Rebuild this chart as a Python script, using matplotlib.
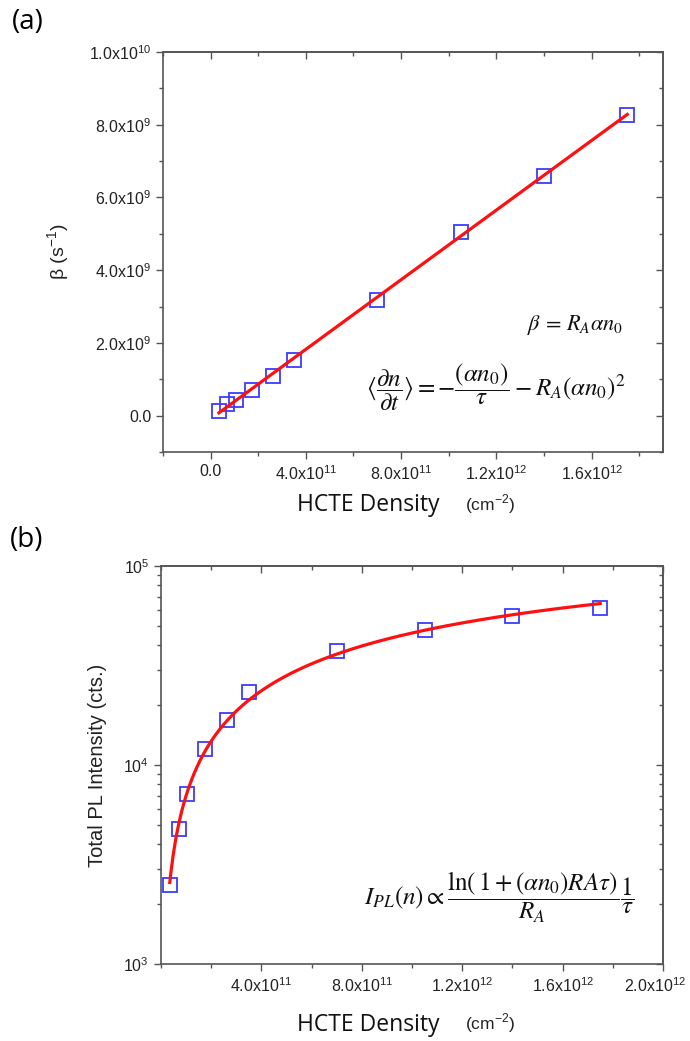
import numpy as np
import matplotlib
matplotlib.use("Agg")
import matplotlib.pyplot as plt
import matplotlib.transforms as mtransforms
from matplotlib.ticker import MultipleLocator, FuncFormatter, LogLocator, NullFormatter

plt.rcParams['font.family'] = ['Liberation Sans', 'DejaVu Sans']

# ---------------- data ----------------
density = [3.5e10, 7.0e10, 1.05e11, 1.75e11, 2.63e11, 3.5e11, 7.0e11, 1.05e12, 1.4e12, 1.75e12]
beta = [0.13e9, 0.31e9, 0.44e9, 0.70e9, 1.10e9, 1.54e9, 3.17e9, 5.06e9, 6.60e9, 8.27e9]
pl_intensity = [2500, 4780, 7180, 12000, 16750, 23250, 37600, 47500, 55900, 61800]

a_xticks = [0.0, 4e11, 8e11, 1.2e12, 1.6e12]
a_yticks = [0.0, 2e9, 4e9, 6e9, 8e9, 1e10]
b_xticks = [4e11, 8e11, 1.2e12, 1.6e12, 2.0e12]
b_yticks = [1e3, 1e4, 1e5]

SQ = '#3b3bff'
RED = '#ff1010'
SPINE = '#555555'
TXT = '#222222'


def sci(v, pos=None):
    if v == 0:
        return "0.0"
    m, e = f"{v:.1e}".split("e")
    return f"{m}x10$^{{\\mathregular{{{int(e)}}}}}$"


def pow10(v, pos=None):
    e = int(round(np.log10(v)))
    return f"10$^{{\\mathregular{{{e}}}}}$"


def style(ax, xmin_step, ylog=False):
    for s in ax.spines.values():
        s.set_color(SPINE)
        s.set_linewidth(1.2)
    ax.tick_params(which='both', direction='out', colors=SPINE, labelcolor=TXT,
                   labelsize=11.5, top=False, right=False)
    ax.tick_params(which='major', length=5, width=1)
    ax.tick_params(which='minor', length=3, width=1)
    sx = ax.secondary_xaxis('top')
    sx.set_xticks(ax.get_xticks())
    sx.xaxis.set_minor_locator(MultipleLocator(xmin_step))
    sx.tick_params(which='both', direction='in', labeltop=False, colors=SPINE)
    sx.tick_params(which='major', length=5, width=1)
    sx.tick_params(which='minor', length=3, width=1)
    sx.spines['top'].set_color(SPINE)
    sx.spines['top'].set_linewidth(1.2)
    sy = ax.secondary_yaxis('right')
    if ylog:
        sy.set_yscale('log')
        sy.yaxis.set_major_locator(LogLocator(base=10))
        sy.yaxis.set_minor_locator(LogLocator(base=10, subs=np.arange(2, 10)))
        sy.yaxis.set_minor_formatter(NullFormatter())
    else:
        sy.set_yticks(ax.get_yticks())
        sy.yaxis.set_minor_locator(MultipleLocator(1e9))
    sy.tick_params(which='both', direction='in', labelright=False, colors=SPINE)
    sy.tick_params(which='major', length=5, width=1)
    sy.tick_params(which='minor', length=3, width=1)
    sy.spines['right'].set_color(SPINE)
    sy.spines['right'].set_linewidth(1.2)


fig = plt.figure(figsize=(6.9, 10.41), dpi=100)

# ---------------- panel (a) ----------------
ax1 = fig.add_axes([163/690, 1-452/1041, 500/690, 400/1041])
x = np.array(density)
y = np.array(beta)
k, b0 = np.polyfit(x, y, 1)
xl = np.array([x[0], x[-1]])
ax1.plot(xl, k*xl + b0, color=RED, lw=2.3, zorder=3)
ax1.plot(x, y, 's', mfc='none', mec=SQ, mew=1.3, ms=10, zorder=2)
ax1.set_xlim(-2e11, 1.9e12)
ax1.set_ylim(-1e9, 1e10)
ax1.set_xticks(a_xticks)
ax1.set_yticks(a_yticks)
ax1.xaxis.set_minor_locator(MultipleLocator(2e11))
ax1.yaxis.set_minor_locator(MultipleLocator(1e9))
ax1.xaxis.set_major_formatter(FuncFormatter(sci))
ax1.yaxis.set_major_formatter(FuncFormatter(sci))
style(ax1, 2e11)
ax1.set_ylabel("β (s$^{\\mathregular{-1}}$)", fontsize=14, color=TXT, labelpad=12)

fig.text(368/690, 1-505/1041, "HCTE Density", fontsize=16.5, family=['Open Sans'],
         color='#111111', ha='center', va='center')
fig.text(490/690, 1-504/1041, "(cm$^{\\mathregular{-2}}$)", fontsize=12.5, color=TXT,
         ha='center', va='center')

ax1.text(0.824, 0.318, r"$\beta\,=\,R_A\alpha n_0$", transform=ax1.transAxes,
         fontsize=16, ha='center', va='center', math_fontfamily='stix', color='#111111')
ax1.text(0.665, 0.163,
         r"$\langle\dfrac{\partial n}{\partial t}\rangle=-\dfrac{(\alpha n_0)}{\tau}-R_A(\alpha n_0)^2$",
         transform=ax1.transAxes, fontsize=18, ha='center', va='center',
         math_fontfamily='stix', color='#111111')

fig.text(12/690, 1-22/1041, "(a)", fontsize=20, family=['Open Sans'], va='center', ha='left')

# ---------------- panel (b) ----------------
ax2 = fig.add_axes([161/690, 1-964/1041, 502/690, 398/1041])
xb = np.array(density)
yb = np.array(pl_intensity)
# fit I = A*ln(1+B*x) (least squares in log space)
Bs = np.logspace(-13.5, -10.5, 3000)
best = None
for Bv in Bs:
    g = np.log(1 + Bv*xb)
    lnA = np.mean(np.log(yb) - np.log(g))
    err = np.sum((np.log(yb) - lnA - np.log(g))**2)
    if best is None or err < best[0]:
        best = (err, Bv, np.exp(lnA))
_, Bfit, Afit = best
xc = np.linspace(xb[0], xb[-1], 400)
ax2.plot(xc, Afit*np.log(1 + Bfit*xc), color=RED, lw=2.3, zorder=3)
ax2.plot(xb, yb, 's', mfc='none', mec=SQ, mew=1.3, ms=10, zorder=2)
ax2.set_yscale('log')
ax2.set_xlim(0, 2e12)
ax2.set_ylim(1e3, 1e5)
ax2.set_xticks(b_xticks)
ax2.set_yticks(b_yticks)
ax2.xaxis.set_minor_locator(MultipleLocator(2e11))
ax2.yaxis.set_minor_locator(LogLocator(base=10, subs=np.arange(2, 10)))
ax2.yaxis.set_minor_formatter(NullFormatter())
ax2.xaxis.set_major_formatter(FuncFormatter(sci))
ax2.yaxis.set_major_formatter(FuncFormatter(pow10))
style(ax2, 2e11, ylog=True)
ax2.set_ylabel("Total PL Intensity (cts.)", fontsize=14.5, color=TXT, labelpad=12)

fig.text(368/690, 1-1025/1041, "HCTE Density", fontsize=16.5, family=['Open Sans'],
         color='#111111', ha='center', va='center')
fig.text(490/690, 1-1023/1041, "(cm$^{\\mathregular{-2}}$)", fontsize=12.5, color=TXT,
         ha='center', va='center')

ax2.text(0.675, 0.166,
         r"$I_{PL}(n)\propto\dfrac{\ln(\,1+(\alpha n_0)RA\tau)}{R_A}\dfrac{1}{\tau}$",
         transform=ax2.transAxes, fontsize=18, ha='center', va='center',
         math_fontfamily='stix', color='#111111')

fig.text(10/690, 1-540/1041, "(b)", fontsize=20, family=['Open Sans'], va='center', ha='left')

fig.canvas.draw()
lbl = ax2.xaxis.get_major_ticks()[-1].label1
lbl.set_transform(lbl.get_transform() + mtransforms.ScaledTranslation(-8/100, 0, fig.dpi_scale_trans))

fig.savefig("out.png", dpi=100)
